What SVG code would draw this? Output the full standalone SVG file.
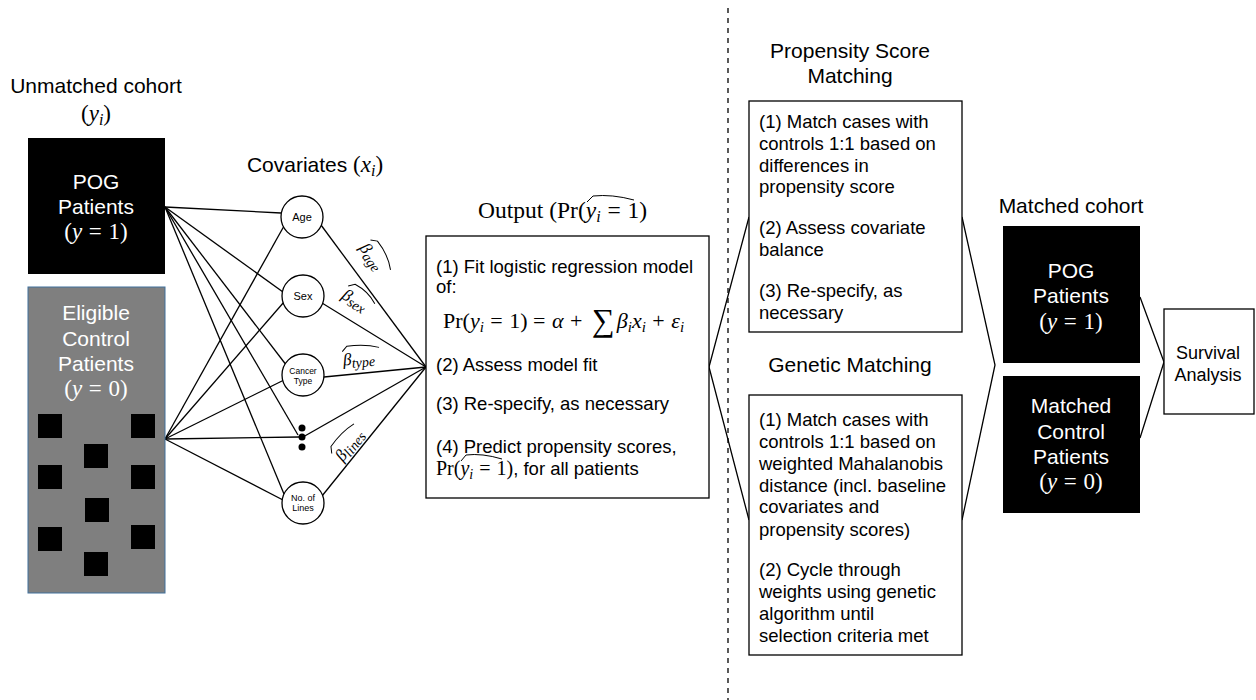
<svg xmlns="http://www.w3.org/2000/svg" width="1256" height="700" viewBox="0 0 1256 700">
<style>
.s{font-family:"Liberation Sans",Arial,sans-serif;fill:#000}
.w{fill:#fff}
.m{font-family:"Liberation Serif","Times New Roman",serif}
.it{font-style:italic}
.t21{font-size:21px}
.t23{font-size:23px}
.t18{font-size:18.5px}
.box{fill:#fff;stroke:#000;stroke-width:1.3}
.blk{fill:#000}
.ln{stroke:#000;stroke-width:1.3;fill:none}
.hat{stroke:#000;stroke-width:1;fill:none}
.circ{fill:#fff;stroke:#000;stroke-width:1.3}
</style>

<!-- divider -->
<line x1="728" y1="8" x2="728" y2="700" stroke="#000" stroke-width="1.3" stroke-dasharray="5,5"/>

<g id="connectors">
  <!-- POG to covariates -->
  <line class="ln" x1="165" y1="207" x2="281" y2="213"/>
  <line class="ln" x1="165" y1="207" x2="283" y2="292"/>
  <line class="ln" x1="165" y1="207" x2="287" y2="366"/>
  <line class="ln" x1="165" y1="207" x2="298" y2="435"/>
  <line class="ln" x1="165" y1="207" x2="284" y2="494"/>
  <!-- Eligible to covariates -->
  <line class="ln" x1="165" y1="439" x2="284" y2="226"/>
  <line class="ln" x1="165" y1="439" x2="284" y2="302"/>
  <line class="ln" x1="165" y1="439" x2="284" y2="380"/>
  <line class="ln" x1="165" y1="439" x2="299" y2="437"/>
  <line class="ln" x1="165" y1="439" x2="283" y2="500"/>
  <!-- covariates to output -->
  <line class="ln" x1="321" y1="225" x2="426" y2="367"/>
  <line class="ln" x1="322" y1="303" x2="426" y2="367"/>
  <line class="ln" x1="324" y1="377" x2="426" y2="367"/>
  <line class="ln" x1="303" y1="437" x2="426" y2="367"/>
  <line class="ln" x1="322" y1="496" x2="426" y2="367"/>
  <!-- output to matching -->
  <polyline class="ln" points="749,217 709,367 749,520"/>
  <polyline class="ln" points="962,217 995,365 962,520"/>
  <polyline class="ln" points="1140,297 1164,362 1140,438"/>
</g>

<g id="unmatched-title">
  <text class="s t21" x="96" y="93" text-anchor="middle">Unmatched cohort</text>
  <text class="m t23" x="96" y="121" text-anchor="middle">(<tspan class="it">y</tspan><tspan class="it" font-size="16" dy="4">i</tspan><tspan dy="-4">)</tspan></text>
</g>

<g id="pog">
  <rect class="blk" x="28" y="138" width="137" height="136"/>
  <text class="s w t21" x="96" y="189" text-anchor="middle">POG</text>
  <text class="s w t21" x="96" y="214" text-anchor="middle">Patients</text>
  <text class="m w t23" x="96" y="239" text-anchor="middle">(<tspan class="it">y</tspan><tspan dx="1"> = </tspan><tspan dx="1">1)</tspan></text>
</g>

<g id="eligible">
  <rect x="28" y="287" width="137" height="306" fill="#7f7f7f" stroke="#41719c" stroke-width="1"/>
  <text class="s w t21" x="96" y="320" text-anchor="middle">Eligible</text>
  <text class="s w t21" x="96" y="346" text-anchor="middle">Control</text>
  <text class="s w t21" x="96" y="371" text-anchor="middle">Patients</text>
  <text class="m w t23" x="96" y="396" text-anchor="middle">(<tspan class="it">y</tspan><tspan dx="1"> = </tspan><tspan dx="1">0)</tspan></text>
  <rect class="blk" x="38" y="414" width="24" height="24"/>
  <rect class="blk" x="131" y="414" width="24" height="24"/>
  <rect class="blk" x="84" y="444" width="24" height="24"/>
  <rect class="blk" x="38" y="465" width="24" height="24"/>
  <rect class="blk" x="131" y="465" width="24" height="24"/>
  <rect class="blk" x="85" y="498" width="24" height="24"/>
  <rect class="blk" x="38" y="527" width="24" height="24"/>
  <rect class="blk" x="131" y="525" width="24" height="24"/>
  <rect class="blk" x="84" y="552" width="24" height="24"/>
</g>

<g id="covariates-title">
  <text class="s t21" x="315" y="172" text-anchor="middle">Covariates <tspan class="m" font-size="23">(</tspan><tspan class="m it" font-size="23">x</tspan><tspan class="m it" font-size="16" dy="4">i</tspan><tspan class="m" font-size="23" dy="-4">)</tspan></text>
</g>

<g id="cov-age">
  <circle class="circ" cx="302" cy="217" r="21"/>
  <text class="s" x="302" y="221" font-size="11" text-anchor="middle">Age</text>
</g>
<g id="cov-sex">
  <circle class="circ" cx="303" cy="296" r="21"/>
  <text class="s" x="303" y="300" font-size="11" text-anchor="middle">Sex</text>
</g>
<g id="cov-cancer">
  <circle class="circ" cx="303" cy="375" r="21"/>
  <text class="s" x="303" y="374" font-size="8.5" text-anchor="middle">Cancer</text>
  <text class="s" x="303" y="384" font-size="8.5" text-anchor="middle">Type</text>
</g>
<g id="cov-dots">
  <circle cx="302" cy="428" r="3.5"/>
  <circle cx="302" cy="437" r="3.5"/>
  <circle cx="302" cy="447" r="3.5"/>
</g>
<g id="cov-lines">
  <circle class="circ" cx="303" cy="503" r="21"/>
  <text class="s" x="303" y="501" font-size="9" text-anchor="middle">No. of</text>
  <text class="s" x="303" y="511" font-size="9" text-anchor="middle">Lines</text>
</g>

<g id="beta-labels" class="m">
  <g transform="translate(373,259) rotate(54.6)">
    <text x="-17" y="5" font-size="17" class="it">β<tspan font-size="14" dy="3">age</tspan></text>
    <path class="hat" d="M-17,-9 L-12,-14 Q5,-15 19,-8"/>
  </g>
  <g transform="translate(357,302) rotate(31.9)">
    <text x="-16" y="5" font-size="17" class="it">β<tspan font-size="14" dy="3">sex</tspan></text>
    <path class="hat" d="M-16,-9 L-11,-14 Q4,-15 16,-8"/>
  </g>
  <g transform="translate(361,359) rotate(-5)">
    <text x="-18" y="5" font-size="17" class="it">β<tspan font-size="14" dy="3">type</tspan></text>
    <path class="hat" d="M-18,-9 L-13,-14 Q5,-15 19,-10"/>
  </g>
  <g transform="translate(350,445) rotate(-51.6)">
    <text x="-18" y="5" font-size="17" class="it">β<tspan font-size="14" dy="3">lines</tspan></text>
    <path class="hat" d="M-18,-9 L-13,-14 Q5,-15 19,-10"/>
  </g>
</g>

<g id="output-title">
  <text class="m" x="478" y="218" font-size="23.5">Output (Pr(<tspan class="it">y</tspan><tspan class="it" font-size="16" dy="4">i</tspan><tspan dy="-4" dx="1"> = </tspan><tspan dx="1">1)</tspan></text>
  <path class="hat" d="M587,202 L593,196 Q612,194 634,200"/>
</g>

<g id="output-box">
  <rect class="box" x="426" y="236" width="283" height="262"/>
  <text class="s t18" x="436" y="273">(1) Fit logistic regression model</text>
  <text class="s t18" x="436" y="293">of:</text>
  <text class="m" x="443" y="328" font-size="22">Pr(<tspan class="it">y</tspan><tspan class="it" font-size="15" dy="4">i</tspan><tspan dy="-4" dx="1"> = </tspan><tspan dx="1">1) = </tspan><tspan dx="1" class="it">α</tspan><tspan dx="1"> + </tspan><tspan font-size="32" dy="3" dx="4">∑</tspan><tspan class="it" dy="-3" dx="2">β</tspan><tspan class="it" font-size="15" dy="4">i</tspan><tspan class="it" dy="-4">x</tspan><tspan class="it" font-size="15" dy="4">i</tspan><tspan dy="-4" dx="1"> + </tspan><tspan dx="1" class="it">ε</tspan><tspan class="it" font-size="15" dy="4">i</tspan></text>
  <text class="s t18" x="436" y="371">(2) Assess model fit</text>
  <text class="s t18" x="436" y="410">(3) Re-specify, as necessary</text>
  <text class="s t18" x="436" y="453">(4) Predict propensity scores,</text>
  <text class="s t18" x="436" y="475"><tspan class="m" font-size="20">Pr(</tspan><tspan class="m it" font-size="20">y</tspan><tspan class="m it" font-size="14" dy="4">i</tspan><tspan class="m" font-size="20" dy="-4" dx="1"> = </tspan><tspan class="m" font-size="20" dx="1">1)</tspan>, for all patients</text>
  <path class="hat" d="M461,461 L466,455 Q482,453 502,459"/>
</g>

<g id="psm-title">
  <text class="s t21" x="850" y="58" text-anchor="middle">Propensity Score</text>
  <text class="s t21" x="850" y="83" text-anchor="middle">Matching</text>
</g>
<g id="psm-box">
  <rect class="box" x="749" y="101" width="213" height="231"/>
  <text class="s t18" x="759" y="128">(1) Match cases with</text>
  <text class="s t18" x="759" y="150">controls 1:1 based on</text>
  <text class="s t18" x="759" y="172">differences in</text>
  <text class="s t18" x="759" y="193">propensity score</text>
  <text class="s t18" x="759" y="234">(2) Assess covariate</text>
  <text class="s t18" x="759" y="256">balance</text>
  <text class="s t18" x="759" y="297">(3) Re-specify, as</text>
  <text class="s t18" x="759" y="319">necessary</text>
</g>

<g id="gm-title">
  <text class="s t21" x="850" y="372" text-anchor="middle">Genetic Matching</text>
</g>
<g id="gm-box">
  <rect class="box" x="749" y="395" width="213" height="260"/>
  <text class="s t18" x="759" y="426">(1) Match cases with</text>
  <text class="s t18" x="759" y="448">controls 1:1 based on</text>
  <text class="s t18" x="759" y="470">weighted Mahalanobis</text>
  <text class="s t18" x="759" y="492">distance (incl. baseline</text>
  <text class="s t18" x="759" y="513">covariates and</text>
  <text class="s t18" x="759" y="536">propensity scores)</text>
  <text class="s t18" x="759" y="576">(2) Cycle through</text>
  <text class="s t18" x="759" y="598">weights using genetic</text>
  <text class="s t18" x="759" y="620">algorithm until</text>
  <text class="s t18" x="759" y="642">selection criteria met</text>
</g>

<g id="matched-title">
  <text class="s t21" x="1071" y="213" text-anchor="middle">Matched cohort</text>
</g>
<g id="matched-pog">
  <rect class="blk" x="1003" y="226" width="137" height="137"/>
  <text class="s w t21" x="1071" y="278" text-anchor="middle">POG</text>
  <text class="s w t21" x="1071" y="303" text-anchor="middle">Patients</text>
  <text class="m w t23" x="1071" y="329" text-anchor="middle">(<tspan class="it">y</tspan><tspan dx="1"> = </tspan><tspan dx="1">1)</tspan></text>
</g>
<g id="matched-control">
  <rect class="blk" x="1003" y="376" width="137" height="137"/>
  <text class="s w t21" x="1071" y="413" text-anchor="middle">Matched</text>
  <text class="s w t21" x="1071" y="439" text-anchor="middle">Control</text>
  <text class="s w t21" x="1071" y="464" text-anchor="middle">Patients</text>
  <text class="m w t23" x="1071" y="489" text-anchor="middle">(<tspan class="it">y</tspan><tspan dx="1"> = </tspan><tspan dx="1">0)</tspan></text>
</g>

<g id="survival">
  <rect class="box" x="1164" y="309" width="90" height="105"/>
  <text class="s" x="1208" y="359" font-size="18" text-anchor="middle">Survival</text>
  <text class="s" x="1208" y="381" font-size="18" text-anchor="middle">Analysis</text>
</g>
</svg>
